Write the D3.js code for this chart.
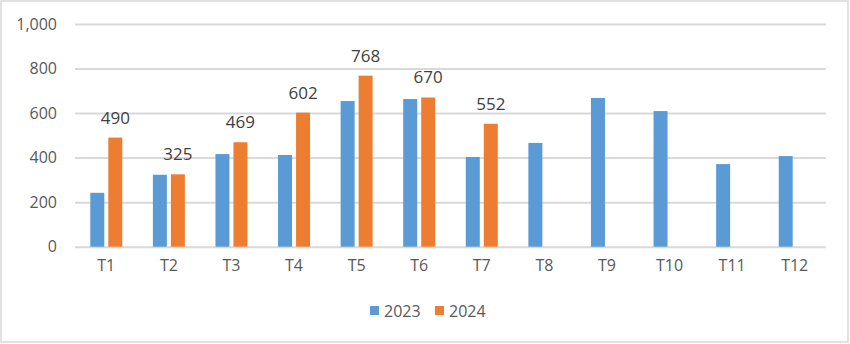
<!DOCTYPE html>
<html><head><meta charset="utf-8">
<script src="https://cdn.jsdelivr.net/npm/d3@7"></script>
<style>body{margin:0;background:#fff}svg{display:block}</style>
</head><body>
<script>
const categories = ["T1","T2","T3","T4","T5","T6","T7","T8","T9","T10","T11","T12"];
const series2023 = [242,323,416,412,654,663,403,466,668,609,371,407];
const series2024 = [490,325,469,602,768,670,552,null,null,null,null,null];
const seriesNames = ["2023","2024"];
const colors = ["#5b9bd5","#ed7d31"];
const yTicks = [0,200,400,600,800,1000];

(function(){
const W=850,H=344;
const svg=d3.select("body").append("svg").attr("width",W).attr("height",H);
svg.append("rect").attr("x",1).attr("y",1).attr("width",W-3).attr("height",H-3)
  .attr("fill","#fff").attr("stroke","#d9d9d9").attr("stroke-width",1.5);

const font="'Open Sans', 'Noto Sans', sans-serif";
const pL=75,pR=826,pT=24,pB=246.7;
const x=d3.scaleBand().domain(categories).range([pL,pR]);
const y=d3.scaleLinear().domain([0,1000]).range([pB,pT]);
const fmt=d3.format(",");

const yAxis=d3.axisLeft(y).tickValues(yTicks).tickSize(-(pR-pL)).tickFormat(fmt).tickPadding(18);
const gy=svg.append("g").attr("transform",`translate(${pL},0)`).call(yAxis);
gy.select(".domain").remove();
gy.selectAll(".tick line").attr("stroke","#d9d9d9").attr("stroke-width",2);
gy.selectAll(".tick text").attr("fill","#595959").style("font-family",font).style("font-size","16px");

const xAxis=d3.axisBottom(x).tickSize(0).tickPadding(13);
const gx=svg.append("g").attr("transform",`translate(0,${pB})`).call(xAxis);
gx.select(".domain").remove();
gx.selectAll(".tick text").attr("fill","#595959").style("font-family",font).style("font-size","16px");

const bw=14,gap=4;
const data=[series2023,series2024];
data.forEach((vals,si)=>{
  const g=svg.append("g");
  categories.forEach((c,i)=>{
    const v=vals[i]; if(v==null) return;
    const cx=x(c)+x.bandwidth()/2;
    const bx=si===0? cx-gap/2-bw : cx+gap/2;
    g.append("rect").attr("x",bx).attr("y",y(v)).attr("width",bw).attr("height",y(0)-y(v)).attr("fill",colors[si]);
    if(si===1){
      g.append("text").attr("x",bx+bw/2).attr("y",y(v)-14).attr("text-anchor","middle")
        .attr("fill","#404040").style("font-family",font).style("font-size","17px").text(v);
    }
  });
});

const leg=svg.append("g");
const items=[{n:seriesNames[0],c:colors[0],x:370},{n:seriesNames[1],c:colors[1],x:435}];
items.forEach(it=>{
  leg.append("rect").attr("x",it.x).attr("y",306).attr("width",9).attr("height",9).attr("fill",it.c);
  leg.append("text").attr("x",it.x+14).attr("y",316.5).attr("fill","#595959")
    .style("font-family",font).style("font-size","16px").text(it.n);
});
})();
</script>
</body></html>
